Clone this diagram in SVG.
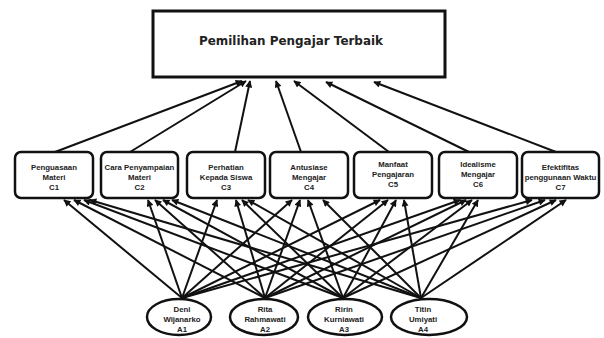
<svg xmlns="http://www.w3.org/2000/svg" width="604" height="338" viewBox="0 0 604 338">
<defs>
<marker id="ah" viewBox="0 0 10 10" refX="9" refY="5" markerWidth="8" markerHeight="7" markerUnits="userSpaceOnUse" orient="auto">
<path d="M0,0 L10,5 L0,10 z" fill="#111"/>
</marker>
<style>
.box{fill:#fff;stroke:#111;stroke-width:2.5}
.top{fill:#fff;stroke:#111;stroke-width:3}
.ell{fill:#fff;stroke:#111;stroke-width:2.5}
.t{font-family:"Liberation Sans",Arial,sans-serif;font-weight:bold;font-size:7.8px;fill:#222;text-anchor:middle}
.title{font-family:"DejaVu Sans",Verdana,sans-serif;font-weight:bold;font-size:13px;fill:#222;text-anchor:middle}
.c{stroke:#111;stroke-width:2;fill:none;marker-end:url(#ah)}
</style>
</defs>
<rect width="604" height="338" fill="#fff"/>
<g id="connectors">
<line class="c" x1="55" y1="152" x2="242" y2="81"/>
<line class="c" x1="130" y1="152" x2="246" y2="81"/>
<line class="c" x1="235" y1="152" x2="250" y2="81"/>
<line class="c" x1="301" y1="152" x2="276" y2="81"/>
<line class="c" x1="389" y1="152" x2="294" y2="81"/>
<line class="c" x1="469" y1="152" x2="326" y2="82"/>
<line class="c" x1="556" y1="152" x2="374" y2="82"/>
<!-- A1 -->
<line class="c" x1="182" y1="298" x2="64" y2="200"/>
<line class="c" x1="182" y1="298" x2="148" y2="200"/>
<line class="c" x1="182" y1="298" x2="217" y2="200"/>
<line class="c" x1="182" y1="298" x2="292" y2="200"/>
<line class="c" x1="182" y1="298" x2="380" y2="200"/>
<line class="c" x1="182" y1="298" x2="460" y2="200"/>
<line class="c" x1="182" y1="298" x2="532" y2="200"/>
<!-- A2 -->
<line class="c" x1="265" y1="298" x2="74" y2="200"/>
<line class="c" x1="265" y1="298" x2="155" y2="200"/>
<line class="c" x1="265" y1="298" x2="236" y2="200"/>
<line class="c" x1="265" y1="298" x2="300" y2="200"/>
<line class="c" x1="265" y1="298" x2="388" y2="200"/>
<line class="c" x1="265" y1="298" x2="466" y2="200"/>
<line class="c" x1="265" y1="298" x2="545" y2="200"/>
<!-- A3 -->
<line class="c" x1="343" y1="298" x2="84" y2="200"/>
<line class="c" x1="343" y1="298" x2="163" y2="200"/>
<line class="c" x1="343" y1="298" x2="242" y2="200"/>
<line class="c" x1="343" y1="298" x2="308" y2="200"/>
<line class="c" x1="343" y1="298" x2="396" y2="200"/>
<line class="c" x1="343" y1="298" x2="472" y2="200"/>
<line class="c" x1="343" y1="298" x2="556" y2="200"/>
<!-- A4 -->
<line class="c" x1="421" y1="298" x2="90" y2="200"/>
<line class="c" x1="421" y1="298" x2="172" y2="200"/>
<line class="c" x1="421" y1="298" x2="248" y2="200"/>
<line class="c" x1="421" y1="298" x2="323" y2="200"/>
<line class="c" x1="421" y1="298" x2="404" y2="200"/>
<line class="c" x1="421" y1="298" x2="478" y2="200"/>
<line class="c" x1="421" y1="298" x2="566" y2="200"/>
</g>
<g id="goal">
<rect class="top" x="153" y="11" width="292" height="66"/>
<text class="title" x="291" y="45" textLength="184" lengthAdjust="spacingAndGlyphs">Pemilihan Pengajar Terbaik</text>
</g>
<g id="C1">
<rect class="box" x="15" y="152" width="78" height="46" rx="6"/>
<text class="t" x="54" y="170">Penguasaan</text><text class="t" x="54" y="180">Materi</text><text class="t" x="54" y="190">C1</text>
</g>
<g id="C2">
<rect class="box" x="101" y="152" width="77" height="46" rx="6"/>
<text class="t" x="139.5" y="170">Cara Penyampaian</text><text class="t" x="139.5" y="180">Materi</text><text class="t" x="139.5" y="190">C2</text>
</g>
<g id="C3">
<rect class="box" x="187" y="152" width="78" height="46" rx="6"/>
<text class="t" x="226" y="170">Perhatian</text><text class="t" x="226" y="180">Kepada Siswa</text><text class="t" x="226" y="190">C3</text>
</g>
<g id="C4">
<rect class="box" x="270" y="152" width="78" height="46" rx="6"/>
<text class="t" x="309" y="170">Antusiase</text><text class="t" x="309" y="180">Mengajar</text><text class="t" x="309" y="190">C4</text>
</g>
<g id="C5">
<rect class="box" x="354" y="152" width="78" height="46" rx="6"/>
<text class="t" x="393" y="167">Manfaat</text><text class="t" x="393" y="177">Pengajaran</text><text class="t" x="393" y="187">C5</text>
</g>
<g id="C6">
<rect class="box" x="439" y="152" width="78" height="46" rx="6"/>
<text class="t" x="478" y="167">Idealisme</text><text class="t" x="478" y="177">Mengajar</text><text class="t" x="478" y="187">C6</text>
</g>
<g id="C7">
<rect class="box" x="522" y="152" width="77" height="46" rx="6"/>
<text class="t" x="560.5" y="170">Efektifitas</text><text class="t" x="560.5" y="180">penggunaan Waktu</text><text class="t" x="560.5" y="190">C7</text>
</g>
<g id="A1">
<ellipse class="ell" cx="179" cy="317" rx="32" ry="18"/>
<text class="t" x="182" y="312">Deni</text><text class="t" x="182" y="321.5">Wijanarko</text><text class="t" x="182" y="331.5">A1</text>
</g>
<g id="A2">
<ellipse class="ell" cx="264" cy="317" rx="34" ry="18"/>
<text class="t" x="265" y="312">Rita</text><text class="t" x="265" y="321.5">Rahmawati</text><text class="t" x="265" y="331.5">A2</text>
</g>
<g id="A3">
<ellipse class="ell" cx="345" cy="317" rx="37" ry="18"/>
<text class="t" x="344" y="312">Ririn</text><text class="t" x="344" y="321.5">Kurniawati</text><text class="t" x="344" y="331.5">A3</text>
</g>
<g id="A4">
<ellipse class="ell" cx="429" cy="317" rx="38" ry="18"/>
<text class="t" x="423" y="312">Titin</text><text class="t" x="423" y="321.5">Umiyati</text><text class="t" x="423" y="331.5">A4</text>
</g>
</svg>
